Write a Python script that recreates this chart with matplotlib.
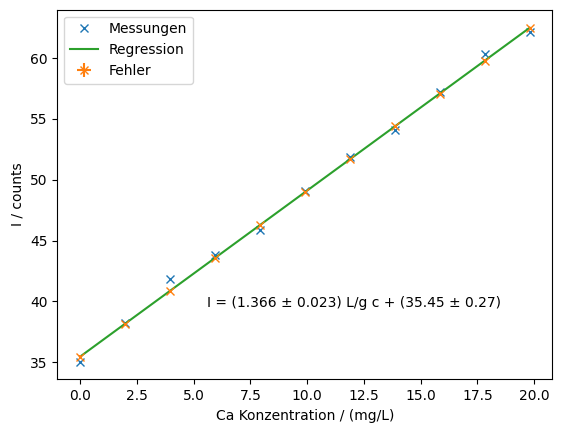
import numpy as np
import matplotlib.pyplot as plt

# Kalibrierdaten (Ca Konzentration in mg/L, Intensitaet in counts)
conc = [0.0, 1.98, 3.96, 5.94, 7.92, 9.9, 11.88, 13.86, 15.84, 17.82, 19.8]
counts = [34.97, 38.2, 41.85, 43.8, 45.85, 49.05, 51.9, 54.1, 57.2, 60.35, 62.15]

# Regressionsparameter
slope, slope_err = 1.366, 0.023
icpt, icpt_err = 35.45, 0.27

conc_err = 0.01
fit_err = 0.1

c = np.array(conc)
fit = slope * c + icpt

fig = plt.figure(figsize=(5.62, 4.32), dpi=100)
ax = fig.add_axes([0.102, 0.122, 0.881, 0.8555])

ax.plot(c, counts, 'x', label='Messungen')
ax.plot(c, fit, color='C2', label='Regression')
ax.errorbar(c, fit, xerr=conc_err, yerr=fit_err, fmt='x', color='C1', label='Fehler')

ax.text(5.6, 39.55, f'I = ({slope} ± {slope_err}) L/g c + ({icpt} ± {icpt_err})')

ax.set_xlabel('Ca Konzentration / (mg/L)')
ax.set_ylabel('I / counts')
ax.legend(loc='upper left')

fig.savefig('out.png', dpi=100)
